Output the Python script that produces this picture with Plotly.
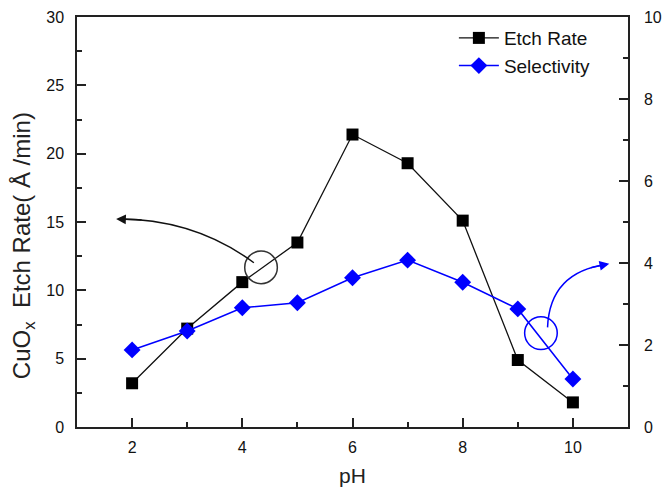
import plotly.graph_objects as go

ph = [2, 3, 4, 5, 6, 7, 8, 9, 10]
etch_rate = [3.2, 7.2, 10.6, 13.5, 21.4, 19.3, 15.1, 4.9, 1.8]
selectivity = [1.88, 2.34, 2.91, 3.03, 3.64, 4.07, 3.53, 2.88, 1.17]

FONT = "Liberation Sans, Arial, sans-serif"

fig = go.Figure()
fig.add_trace(go.Scatter(
    x=ph, y=etch_rate, name="Etch Rate", mode="lines+markers",
    line=dict(color="#111111", width=1.3),
    marker=dict(symbol="square", size=12, color="#000000"),
    yaxis="y"))
fig.add_trace(go.Scatter(
    x=ph, y=selectivity, name="Selectivity", mode="lines+markers",
    line=dict(color="#0000FF", width=1.5),
    marker=dict(symbol="diamond", size=13, color="#0000FF"),
    yaxis="y2"))

# annotation circles (data coords)
bc = (4.34, 11.68)
fig.add_shape(type="circle", xref="x", yref="y",
              x0=bc[0] - 0.296, x1=bc[0] + 0.296, y0=bc[1] - 1.19, y1=bc[1] + 1.19,
              line=dict(color="#333333", width=1.5))
blc = (9.42, 2.29)
fig.add_shape(type="circle", xref="x", yref="y2",
              x0=blc[0] - 0.296, x1=blc[0] + 0.296, y0=blc[1] - 0.40, y1=blc[1] + 0.40,
              line=dict(color="#0000FF", width=1.5))

# curved arrows
fig.add_shape(type="path", xref="x", yref="y",
              path="M 4.21,12.02 Q 3.14,15.22 1.75,15.22",
              line=dict(color="#111111", width=1.5))
fig.add_annotation(x=1.71, y=15.22, ax=2.2, ay=15.15, xref="x", yref="y",
                   axref="x", ayref="y", text="", showarrow=True,
                   arrowhead=2, arrowsize=1.3, arrowwidth=1.5, arrowcolor="#111111")
fig.add_shape(type="path", xref="x", yref="y2",
              path="M 9.54,2.43 Q 9.58,3.78 10.62,3.97",
              line=dict(color="#0000FF", width=1.5))
fig.add_annotation(x=10.66, y=3.98, ax=10.3, ay=3.88, xref="x", yref="y2",
                   axref="x", ayref="y2", text="", showarrow=True,
                   arrowhead=2, arrowsize=1.3, arrowwidth=1.5, arrowcolor="#0000FF")

# y-axis title (placed as annotation to match reference offset)
fig.add_annotation(x=-0.098, y=0.441, xref="paper", yref="paper",
                   text="CuO<sub>x</sub>  Etch Rate( Å /min)", textangle=-90,
                   showarrow=False, xanchor="center", yanchor="middle",
                   font=dict(family=FONT, size=24, color="#222222"))

axis_common = dict(showline=True, linecolor="#222222", linewidth=1.5,
                   ticks="inside", tickcolor="#222222", tickwidth=1.5,
                   showgrid=False, zeroline=False, automargin=False,
                   tickfont=dict(family=FONT, size=16, color="#111111"))

fig.update_layout(
    width=671, height=490,
    margin=dict(l=77, r=43, t=17, b=63),
    paper_bgcolor="white", plot_bgcolor="white",
    font=dict(family=FONT, color="#111111"),
    showlegend=True,
    legend=dict(x=0.684, y=0.995, xanchor="left", yanchor="top",
                bgcolor="rgba(0,0,0,0)", font=dict(family=FONT, size=19, color="#111111"),
                tracegroupgap=0, itemwidth=40),
    xaxis=dict(range=[1, 11], dtick=2, tick0=0, ticklen=9, mirror=True,
               minor=dict(dtick=1, ticks="inside", ticklen=5, tickcolor="#222222"),
               title=dict(text="pH", font=dict(family=FONT, size=21, color="#222222"), standoff=13),
               ticklabelstandoff=5,
               **axis_common),
    yaxis=dict(range=[0, 30], dtick=5, ticklen=9,
               minor=dict(dtick=2.5, ticks="inside", ticklen=5, tickcolor="#222222"),
               ticklabelstandoff=8,
               **axis_common),
    yaxis2=dict(range=[0, 10], dtick=2, ticklen=9, overlaying="y", side="right",
                minor=dict(dtick=1, ticks="inside", ticklen=5, tickcolor="#222222"),
                ticklabelstandoff=11,
                **axis_common),
)

fig.write_html("out.html")
